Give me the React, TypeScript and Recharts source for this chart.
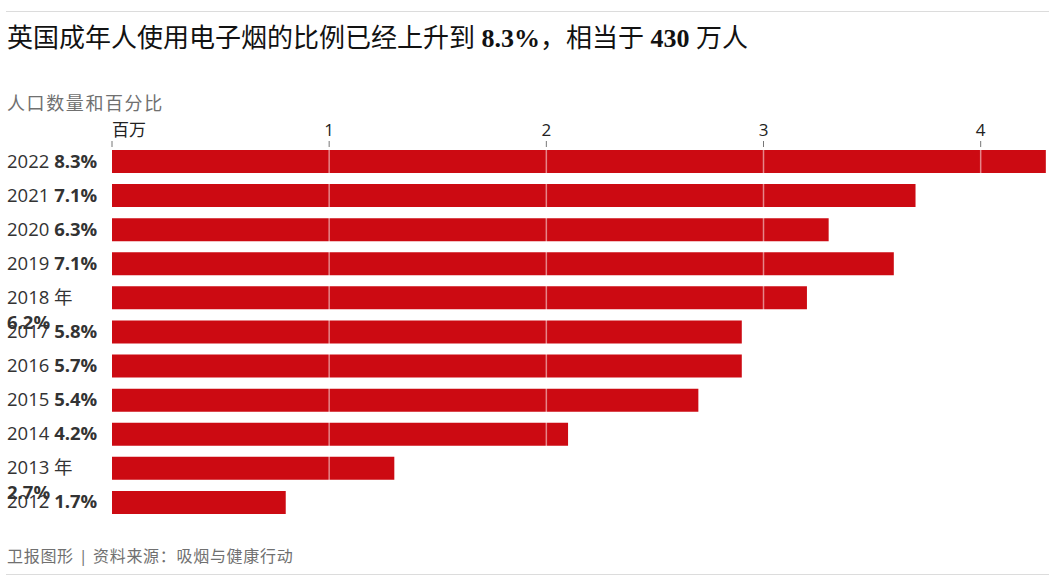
import React from "react";
import { BarChart, Bar, XAxis, YAxis, ReferenceLine } from "recharts";

// Adults using e-cigarettes in Great Britain, millions
const years = ["2022", "2021", "2020", "2019", "2018 年", "2017", "2016", "2015", "2014", "2013 年", "2012"];
const shares = ["8.3%", "7.1%", "6.3%", "7.1%", "6.2%", "5.8%", "5.7%", "5.4%", "4.2%", "2.7%", "1.7%"];
const users = [4.3, 3.7, 3.3, 3.6, 3.2, 2.9, 2.9, 2.7, 2.1, 1.3, 0.8];
const xTicks = [0, 1, 2, 3, 4];
const xTickLabels = ["百万", "1", "2", "3", "4"];

const data = years.map((year, i) => ({ year, share: shares[i], users: users[i] }));

const SANS = "'Open Sans', 'Noto Sans CJK SC', sans-serif";
const BAR_RED = "#cc0a12";

function YearTick(props: any) {
  const { y, payload, index } = props;
  const label: string = payload.value;
  const share = shares[index];
  const wrapped = label.includes("年");
  return (
    <g>
      <text x={7} y={y} dy="0.35em" fontFamily={SANS} fontSize={18.5} fill="#333">
        {label}
        {!wrapped && <tspan fontWeight={700}> {share}</tspan>}
      </text>
      {wrapped && (
        <text x={7} y={y + 25} dy="0.35em" fontFamily={SANS} fontSize={18.5} fontWeight={700} fill="#333">
          {share}
        </text>
      )}
    </g>
  );
}

function ValueTick(props: any) {
  const { x, y, index } = props;
  const first = index === 0;
  return (
    <g>
      <text
        x={x}
        y={y}
        textAnchor={first ? "start" : "middle"}
        fontFamily={SANS}
        fontSize={17}
        fill="#222"
      >
        {xTickLabels[index]}
      </text>
      <line x1={x} x2={x} y1={y + 5} y2={y + 11} stroke="#777" strokeWidth={1} />
    </g>
  );
}

export default function App() {
  return (
    <div
      style={{
        position: "absolute",
        left: 0,
        top: 0,
        width: 1055,
        height: 581,
        background: "#fff",
        fontFamily: SANS,
      }}
    >
      <div style={{ position: "absolute", left: 6, top: 11, width: 1043, borderTop: "1px solid #dcdcdc" }} />
      <div
        style={{
          position: "absolute",
          left: 7,
          top: 22,
          fontFamily: "'Liberation Serif', 'Noto Sans CJK SC', serif",
          fontSize: 26,
          lineHeight: "34px",
          color: "#121212",
          whiteSpace: "nowrap",
        }}
      >
        英国成年人使用电子烟的比例已经上升到 <b>8.3%</b>，相当于 <b>430</b> 万人
      </div>
      <div
        style={{
          position: "absolute",
          left: 7,
          top: 90,
          fontSize: 18,
          letterSpacing: 1.6,
          lineHeight: "26px",
          color: "#707070",
        }}
      >
        人口数量和百分比
      </div>

      <div style={{ position: "absolute", left: 0, top: 0 }}>
        <BarChart
          width={1055}
          height={581}
          data={data}
          layout="vertical"
          margin={{ top: 114, right: 7, bottom: 62, left: 0 }}
          barSize={23}
        >
          <XAxis
            type="number"
            orientation="top"
            domain={[0, 4.31]}
            ticks={xTicks}
            tick={<ValueTick />}
            tickLine={false}
            axisLine={false}
            height={30}
            interval={0}
            allowDataOverflow
          />
          <YAxis
            type="category"
            dataKey="year"
            width={112}
            tick={<YearTick />}
            tickLine={false}
            axisLine={false}
            interval={0}
          />
          <Bar dataKey="users" fill={BAR_RED} isAnimationActive={false} />
          {xTicks.slice(1).map((t) => (
            <ReferenceLine key={t} x={t} stroke="#fff" strokeOpacity={0.5} strokeWidth={1.5} />
          ))}
        </BarChart>
      </div>

      <div
        style={{
          position: "absolute",
          left: 7,
          top: 544,
          fontSize: 16,
          letterSpacing: 0.7,
          lineHeight: "24px",
          color: "#707070",
          whiteSpace: "nowrap",
        }}
      >
        卫报图形 | 资料来源：吸烟与健康行动
      </div>
      <div style={{ position: "absolute", left: 6, top: 574, width: 1043, borderTop: "1px solid #dcdcdc" }} />
    </div>
  );
}
